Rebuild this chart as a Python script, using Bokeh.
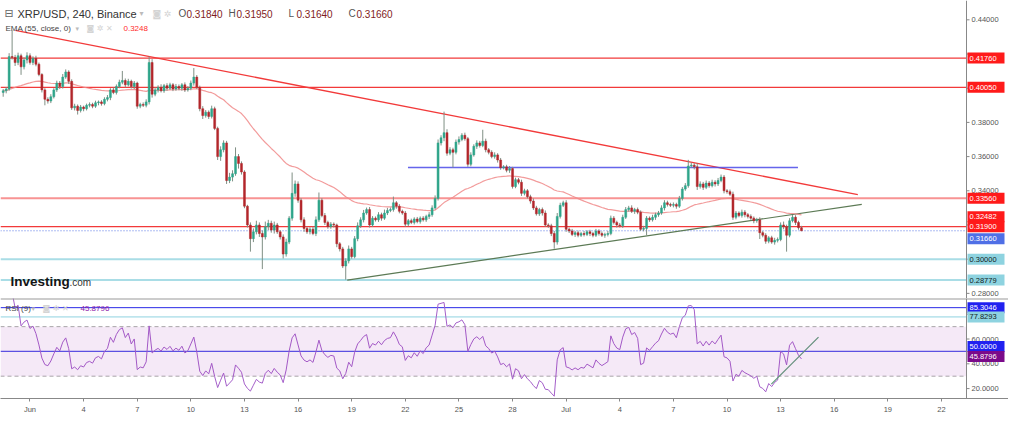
import numpy as np
from bokeh.plotting import figure
from bokeh.models import (ColumnDataSource, Span, Label, BoxAnnotation, FixedTicker, Range1d)
from bokeh.core.properties import value
from bokeh.layouts import column
from bokeh.embed import file_html
from bokeh.resources import INLINE

# ---------------- data (prices in units of 0.0001 USD) ----------------
start_day = -1.5          # 30 May 12:00, counted in days from 1 Jun
step_day = 1 / 6          # 240-minute candles
first_open_e4 = 3975

close_e4 = [
    3985, 3995, 4185, 4180, 4150, 4190, 4125, 4165, 4190, 4150,
    4175, 4140, 4080, 3990, 3935, 3925, 3950, 3990, 4030, 4010,
    4065, 4095, 4040, 3885, 3895, 3870, 3890, 3880, 3900, 3905,
    3895, 3915, 3920, 3910, 3935, 3945, 3990, 3975, 4010, 4035,
    4045, 4020, 4040, 4010, 4030, 3895, 3905, 3900, 3920, 4150,
    3965, 3990, 4005, 3985, 4015, 4000, 4020, 3995, 4010, 4000,
    4020, 3990, 4000, 4030, 4065, 4005, 3880, 3840, 3860, 3835,
    3880, 3765, 3600, 3640, 3680, 3460, 3480, 3500, 3600, 3560,
    3510, 3310, 3200, 3120, 3160, 3200, 3150, 3130, 3190, 3210,
    3170, 3200, 3160, 3130, 3030, 3100, 3240, 3385, 3440, 3345,
    3230, 3180, 3160, 3175, 3150, 3230, 3345, 3255, 3215, 3190,
    3205, 3200, 3090, 3060, 2960, 2990, 3060, 3015, 3120, 3195,
    3230, 3270, 3290, 3200, 3240, 3230, 3260, 3240, 3270, 3285,
    3290, 3330, 3310, 3280, 3270, 3205, 3225, 3215, 3235, 3220,
    3240, 3230, 3250, 3260, 3300, 3355, 3680, 3710, 3740, 3620,
    3640, 3625, 3685, 3700, 3725, 3705, 3555, 3610, 3660, 3680,
    3665, 3690, 3640, 3625, 3600, 3610, 3580, 3535, 3540, 3520,
    3530, 3425, 3465, 3450, 3385, 3400, 3365, 3340, 3300, 3265,
    3290, 3270, 3200, 3195, 3150, 3100, 3250, 3315, 3330, 3175,
    3165, 3145, 3155, 3140, 3150, 3145, 3160, 3150, 3140, 3165,
    3150, 3140, 3145, 3150, 3240, 3215, 3200, 3195, 3245, 3290,
    3300, 3280, 3290, 3275, 3175, 3180, 3240, 3230, 3245, 3260,
    3270, 3300, 3330, 3320, 3315, 3320, 3310, 3355, 3410, 3430,
    3545, 3550, 3540, 3425, 3440, 3420, 3445, 3430, 3450, 3440,
    3460, 3480, 3400, 3395, 3380, 3245, 3270, 3255, 3275, 3260,
    3250, 3240, 3225, 3230, 3155, 3140, 3105, 3125, 3100, 3110,
    3115, 3200, 3190, 3140, 3225, 3245, 3215, 3184, 3166,
]

upper_wick_e4 = [
    10, 12, 20, 153, 15, 18, 12, 15, 20, 14,
    12, 15, 10, 8, 10, 12, 15, 10, 14, 12,
    18, 15, 10, 12, 14, 10, 12, 8, 10, 12,
    10, 12, 8, 10, 12, 15, 10, 14, 12, 15,
    56, 12, 15, 10, 12, 8, 10, 12, 15, 35,
    20, 15, 12, 18, 10, 14, 12, 10, 15, 12,
    10, 14, 12, 15, 53, 12, 10, 15, 12, 10,
    18, 12, 10, 20, 15, 12, 25, 20, 54, 15,
    12, 10, 8, 15, 20, 25, 15, 18, 30, 20,
    15, 20, 12, 10, 15, 20, 12, 122, 20, 15,
    12, 15, 10, 12, 15, 20, 45, 12, 15, 10,
    12, 10, 8, 10, 12, 15, 20, 12, 15, 20,
    15, 18, 12, 15, 12, 10, 15, 12, 20, 15,
    12, 36, 10, 12, 10, 12, 10, 12, 10, 12,
    10, 12, 10, 15, 15, 18, 20, 15, 123, 20,
    15, 12, 15, 18, 12, 15, 10, 15, 12, 15,
    12, 67, 15, 10, 12, 15, 10, 12, 10, 12,
    15, 10, 12, 10, 15, 12, 10, 12, 15, 12,
    10, 12, 15, 10, 12, 15, 20, 15, 12, 15,
    10, 12, 10, 12, 10, 15, 10, 12, 10, 12,
    10, 12, 10, 15, 15, 12, 10, 12, 15, 15,
    12, 15, 10, 12, 10, 15, 12, 10, 15, 12,
    12, 15, 15, 12, 10, 12, 10, 15, 12, 15,
    36, 15, 12, 20, 15, 12, 15, 12, 15, 12,
    15, 15, 12, 10, 12, 15, 12, 10, 15, 12,
    10, 12, 10, 12, 15, 10, 12, 10, 12, 15,
    12, 15, 20, 12, 15, 14, 12, 10, 11,
]

lower_wick_e4 = [
    25, 15, 10, 12, 20, 15, 47, 15, 20, 12,
    15, 12, 10, 15, 35, 15, 12, 10, 12, 15,
    12, 10, 15, 12, 15, 24, 12, 15, 10, 12,
    12, 10, 15, 12, 10, 12, 15, 10, 12, 10,
    12, 15, 10, 12, 15, 15, 12, 10, 12, 15,
    20, 12, 15, 10, 12, 15, 10, 12, 10, 12,
    15, 12, 10, 12, 15, 10, 15, 20, 12, 15,
    12, 10, 20, 25, 15, 20, 15, 25, 12, 30,
    15, 12, 15, 76, 20, 15, 20, 188, 15, 20,
    15, 20, 12, 15, 26, 15, 12, 15, 20, 15,
    15, 20, 12, 15, 10, 15, 12, 10, 15, 12,
    12, 15, 20, 15, 12, 80, 15, 12, 10, 15,
    12, 15, 10, 15, 12, 10, 12, 15, 10, 12,
    10, 12, 15, 12, 10, 15, 12, 10, 12, 10,
    12, 10, 12, 15, 12, 10, 12, 15, 20, 15,
    12, 89, 12, 15, 10, 12, 15, 12, 10, 15,
    12, 10, 15, 12, 10, 12, 15, 12, 10, 12,
    15, 12, 10, 12, 15, 12, 10, 15, 12, 10,
    12, 15, 10, 12, 15, 39, 15, 12, 10, 15,
    12, 10, 15, 12, 10, 12, 10, 15, 12, 10,
    12, 10, 15, 12, 10, 12, 15, 10, 12, 10,
    12, 10, 15, 12, 10, 12, 40, 12, 10, 15,
    12, 10, 15, 12, 10, 12, 15, 10, 12, 10,
    12, 10, 15, 20, 12, 15, 10, 12, 10, 15,
    12, 10, 15, 12, 10, 15, 12, 10, 12, 15,
    12, 10, 15, 12, 37, 12, 15, 12, 10, 15,
    12, 10, 15, 96, 12, 10, 15, 12, 2,
]

# x axis ticks (days from 1 Jun)
x_tick_days = [0, 3, 6, 9, 12, 15, 18, 21, 24, 27, 30, 33, 36, 39, 42, 45, 48, 51]
x_tick_labels = ["Jun", "4", "7", "10", "13", "16", "19", "22", "25", "28",
                 "Jul", "4", "7", "10", "13", "16", "19", "22"]
price_ticks = [0.28, 0.30, 0.32, 0.34, 0.36, 0.38, 0.40, 0.42, 0.44]
rsi_ticks = [20, 40, 60, 80]

# drawn levels / trend lines
red_levels = [0.41760, 0.40050, 0.33560, 0.31900]
cyan_levels = [0.30000, 0.28779]
last_price = 0.31660
ema_last = 0.32482
red_trend_days = [-0.82, 46.32]
red_trend_prices = [0.4338, 0.3377]
blue_line_days = [21.15, 42.97]
blue_line_prices = [0.3536, 0.3536]
green_trend_days = [17.75, 46.54]
green_trend_prices = [0.28779, 0.3321]
rsi_trend_days = [41.48, 44.12]
rsi_trend_values = [23.6, 61.5]
rsi_levels_blue = [85.3046, 50.0]
rsi_level_cyan = 77.8293
rsi_last = 45.8796
ohlc_last = ["0.31840", "0.31950", "0.31640", "0.31660"]

# ---------------- derived ----------------
c = np.array(close_e4) / 1e4
o = np.concatenate([[first_open_e4 / 1e4], c[:-1]])
h = np.maximum(o, c) + np.array(upper_wick_e4) / 1e4
l = np.minimum(o, c) - np.array(lower_wick_e4) / 1e4
n = len(c)
x = start_day + np.arange(n) * step_day
up = c >= o

ema = np.zeros(n)
alpha = 2 / (55 + 1)
ema[0] = c[0]
for i in range(1, n):
    ema[i] = alpha * c[i] + (1 - alpha) * ema[i - 1]

period = 9
d = np.diff(c)
gains = np.clip(d, 0, None)
losses = np.clip(-d, 0, None)
rsi = np.full(n, np.nan)
ag = al = 0.0
for i in range(1, n):
    g, ls = gains[i - 1], losses[i - 1]
    if i <= period:
        ag = gains[:i].mean()
        al = losses[:i].mean()
    else:
        ag = (ag * (period - 1) + g) / period
        al = (al * (period - 1) + ls) / period
    rsi[i] = 100.0 if al == 0 else 100 - 100 / (1 + ag / al)

# ---------------- style / geometry ----------------
UP_C = "#2ea58a"
DN_C = "#b3262b"
WICK_C = "#7f8f84"
FONT = "Liberation Sans"
AX_C = "#888888"
LBL_C = "#555555"

PLOT_W = 966          # chart area width in px
SCALE_W = 42          # price-scale column width in px
X0, X1 = -1.65, 52.4  # visible days in chart area
DPX = (X1 - X0) / PLOT_W
XR = X1 + SCALE_W * DPX

P_Y0, P_Y1, P_H = 0.2770, 0.4513, 298
R_Y0, R_Y1, R_H = 12.0, 92.7, 100
P_DPY = (P_Y1 - P_Y0) / P_H
R_DPY = (R_Y1 - R_Y0) / R_H

src = ColumnDataSource(dict(x=x, o=o, h=h, l=l, c=c,
                            top=np.maximum(o, c), bot=np.minimum(o, c),
                            col=[UP_C if u else DN_C for u in up]))


def price_scale(fig, ticks, fmt, tags, dpy):
    """Right-hand scale drawn inside the frame: axis line, ticks, labels and value tags."""
    ys = [v + off * dpy for v, _, _, off in tags]
    fig.add_layout(Span(location=X1, dimension="height", line_color=AX_C, line_width=1))
    fig.segment(x0=[X1] * len(ticks), x1=[X1 + 3 * DPX] * len(ticks), y0=ticks, y1=ticks,
                line_color=AX_C, line_width=1)
    # tick labels that sit right under a value tag are hidden (as in the original)
    shown = [t for t in ticks if min(abs(t - yy) for yy in ys) / dpy > 5.5]
    fig.text(x=[X1 + 5 * DPX] * len(shown), y=shown, text=[fmt.format(t) for t in shown],
             text_font=value(FONT), text_font_size="7.5px", text_color=LBL_C,
             text_baseline="middle", text_align="left")
    fig.rect(x=[X1 + 19.5 * DPX] * len(tags), y=ys, width=37, height=11,
             width_units="screen", height_units="screen",
             fill_color=[t[1] for t in tags], line_color=None)
    fig.text(x=[X1 + 3 * DPX] * len(tags), y=ys, text=[fmt.format(t[0]) for t in tags],
             text_font=value(FONT), text_font_size="7.5px", text_color=[t[2] for t in tags],
             text_baseline="middle", text_align="left")


# ---------------- price panel ----------------
p = figure(frame_width=PLOT_W + SCALE_W, frame_height=P_H, x_range=Range1d(X0, XR),
           y_range=Range1d(P_Y0, P_Y1), output_backend="svg", toolbar_location=None,
           min_border=0, x_axis_location=None, y_axis_location=None)
p.outline_line_color = None
p.grid.visible = False

for lv in red_levels:
    thick = lv == red_levels[2]
    p.line([X0, X1], [lv, lv], line_color="#f23a3a",
           line_width=2 if thick else 1.2, line_alpha=0.55 if thick else 1.0)
for lv in cyan_levels:
    p.line([X0, X1], [lv, lv], line_color="#a9dde6", line_width=2)
p.line([X0, X1], [last_price, last_price], line_color="#5a78e6",
       line_width=1, line_dash="1 2")

p.line(red_trend_days, red_trend_prices, line_color="#f23a3a", line_width=1.3)
p.line(blue_line_days, blue_line_prices, line_color="#4a4ae8", line_width=1.5, line_alpha=0.85)
p.line(green_trend_days, green_trend_prices, line_color="#5c7a55", line_width=1.2)
p.line(x, ema, line_color="#f08a8a", line_width=1.2, line_alpha=0.85)

p.segment(x0="x", y0="h", x1="x", y1="l", source=src, line_color=WICK_C, line_width=1)
p.vbar(x="x", top="top", bottom="bot", width=0.11, source=src,
       fill_color="col", line_color="col", line_width=0.5)

price_tags = [
    (red_levels[0], "#ff1a1a", "white", 0),
    (red_levels[1], "#ff1a1a", "white", 0),
    (red_levels[2], "#ff1a1a", "white", 0),
    (ema_last, "#ff1a1a", "white", 0),
    (red_levels[3], "#ff1a1a", "white", 0),
    (last_price, "#4f6fe6", "white", -8),
    (cyan_levels[0], "#8ed3e0", "#122", 0),
    (cyan_levels[1], "#8ed3e0", "#122", 0),
]
price_scale(p, price_ticks, "{:.5f}", price_tags, P_DPY)


def hdr(fig, xs, ytop, txt, color, size, fh, style="normal", font=FONT):
    fig.add_layout(Label(x=xs, y=fh - ytop, x_units="screen", y_units="screen",
                         text=txt, text_color=color, text_font_size=size,
                         text_font=font, text_font_style=style,
                         text_baseline="middle", text_align="left"))


hdr(p, 4, 13, "⊟", "#666666", "11px", P_H, font="DejaVu Sans")
hdr(p, 17, 13, "XRP/USD, 240, Binance", "#333333", "11px", P_H)
hdr(p, 139, 13, "▾", "#bbbbbb", "8px", P_H, font="DejaVu Sans")
hdr(p, 152, 13, "◙ ✲", "#d4d4d4", "9px", P_H, font="DejaVu Sans")
for letter, val, xs in zip("OHLC", ohlc_last, [178, 228, 288, 348]):
    hdr(p, xs, 13, letter, "#555555", "10px", P_H)
    hdr(p, xs + 8, 13, val, "#7f1d1d", "10px", P_H)
hdr(p, 5, 28, "EMA (55, close, 0)", "#444444", "8px", P_H)
hdr(p, 75, 28, "▾", "#bbbbbb", "7px", P_H, font="DejaVu Sans")
hdr(p, 86, 28, "◙ ✲ ✕", "#d4d4d4", "8px", P_H, font="DejaVu Sans")
hdr(p, 123, 28, f"{ema_last:.4f}", "#ff2a2a", "8px", P_H)

p.add_layout(Label(x=10, y=0.2868, x_units="screen", y_units="data", text="Investing",
                   text_font=FONT, text_font_style="bold", text_font_size="13.5px",
                   text_color="#151515", text_baseline="middle"))
p.add_layout(Label(x=69, y=0.2866, x_units="screen", y_units="data", text=".com",
                   text_font=FONT, text_font_size="10px", text_color="#333333",
                   text_baseline="middle"))

# ---------------- RSI panel ----------------
r = figure(frame_width=PLOT_W + SCALE_W, frame_height=R_H, x_range=p.x_range,
           y_range=Range1d(R_Y0, R_Y1), output_backend="svg", toolbar_location=None,
           min_border=0, y_axis_location=None)
r.outline_line_color = None
r.grid.visible = False
rx = r.xaxis[0]
rx.ticker = FixedTicker(ticks=x_tick_days)
rx.major_label_overrides = {d_: t for d_, t in zip(x_tick_days, x_tick_labels)}
rx.major_label_text_font = FONT
rx.major_label_text_font_size = "7.5px"
rx.major_label_text_color = LBL_C
rx.axis_line_color = AX_C
rx.major_tick_line_color = AX_C
rx.major_tick_out = 3
rx.major_tick_in = 0
rx.minor_tick_line_color = None
rx.major_label_standoff = 3

r.add_layout(BoxAnnotation(bottom=30, top=70, left=X0, right=X1, fill_color="#9c27b0",
                           fill_alpha=0.1, line_color=None))
for lv in (70, 30):
    r.line([X0, X1], [lv, lv], line_color="#aaaaaa", line_width=1, line_dash="4 3")
r.line([X0, X1], [rsi_levels_blue[0]] * 2, line_color="#2a2ae6", line_width=1)
r.line([X0, X1], [rsi_level_cyan] * 2, line_color="#8ed3e0", line_width=1)
r.line([X0, X1], [rsi_levels_blue[1]] * 2, line_color="#5555e8", line_width=1.2)
r.line(x, rsi, line_color="#a45fc9", line_width=1)
r.line(rsi_trend_days, rsi_trend_values, line_color="#5c9a75", line_width=1.2)
r.add_layout(Span(location=R_Y1, dimension="width", line_color="#999999", line_width=2))

rsi_tags = [
    (rsi_levels_blue[0], "#2020f0", "white", 0),
    (rsi_level_cyan, "#8ed3e0", "#122", 0),
    (rsi_levels_blue[1], "#2020f0", "white", 5),
    (rsi_last, "#7b0a8a", "white", 0),
]
price_scale(r, rsi_ticks, "{:.4f}", rsi_tags, R_DPY)

hdr(r, 5, 10, "RSI (9)", "#444444", "8px", R_H)
hdr(r, 31, 10, "▾", "#bbbbbb", "7px", R_H, font="DejaVu Sans")
hdr(r, 42, 10, "◙ ✲ ✕", "#d4d4d4", "8px", R_H, font="DejaVu Sans")
hdr(r, 80, 10, f"{rsi_last:.4f}", "#8e24aa", "8px", R_H)

layout = column(p, r, spacing=0)
open("out.html", "w").write(file_html(layout, INLINE))
